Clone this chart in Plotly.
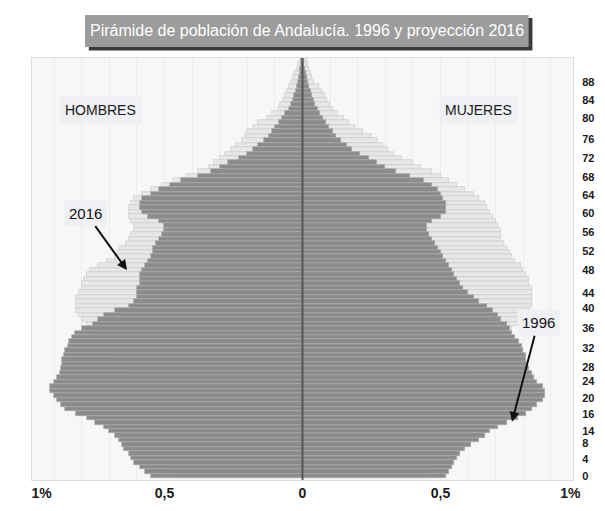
import plotly.graph_objs as go

ages = list(range(95))

# % of total population per single year of age
men_1996 = [
    0.55, 0.57, 0.59, 0.61, 0.62, 0.63, 0.645, 0.655, 0.665, 0.68,
    0.70, 0.72, 0.75, 0.78, 0.82, 0.86, 0.875, 0.89, 0.90, 0.915,
    0.915, 0.90, 0.89, 0.88, 0.875, 0.87, 0.87, 0.865, 0.86, 0.85,
    0.845, 0.835, 0.825, 0.80, 0.76, 0.74, 0.72, 0.68, 0.63, 0.61,
    0.60, 0.60, 0.60, 0.59, 0.59, 0.59, 0.58, 0.57, 0.56, 0.55,
    0.54, 0.54, 0.53, 0.52, 0.51, 0.50, 0.50, 0.52, 0.56, 0.58,
    0.59, 0.59, 0.58, 0.55, 0.52, 0.48, 0.44, 0.38, 0.33, 0.30,
    0.27, 0.23, 0.20, 0.18, 0.16, 0.14, 0.12, 0.11, 0.10, 0.085,
    0.075, 0.065, 0.05, 0.04, 0.035, 0.03, 0.025, 0.02, 0.015, 0.012,
    0.01, 0.008, 0.006, 0.004, 0.002,
]
women_1996 = [
    0.52, 0.53, 0.54, 0.55, 0.56, 0.57, 0.59, 0.61, 0.64, 0.66,
    0.68, 0.71, 0.74, 0.78, 0.81, 0.83, 0.85, 0.87, 0.88, 0.88,
    0.87, 0.85, 0.84, 0.83, 0.82, 0.815, 0.81, 0.81, 0.80, 0.795,
    0.785, 0.77, 0.76, 0.75, 0.74, 0.72, 0.71, 0.69, 0.67, 0.64,
    0.62, 0.60, 0.58, 0.57, 0.56, 0.55, 0.54, 0.53, 0.52, 0.51,
    0.50, 0.49, 0.48, 0.47, 0.46, 0.45, 0.45, 0.47, 0.50, 0.52,
    0.52, 0.52, 0.51, 0.50, 0.49, 0.47, 0.44, 0.39, 0.34, 0.30,
    0.27, 0.24, 0.21, 0.18, 0.16, 0.14, 0.12, 0.11, 0.095, 0.085,
    0.075, 0.065, 0.055, 0.045, 0.04, 0.035, 0.03, 0.025, 0.02, 0.015,
    0.012, 0.009, 0.006, 0.004, 0.002,
]
men_2016 = [
    0.47, 0.48, 0.49, 0.50, 0.51, 0.52, 0.52, 0.52, 0.52, 0.53,
    0.53, 0.52, 0.51, 0.50, 0.50, 0.50, 0.51, 0.52, 0.53, 0.55,
    0.57, 0.59, 0.61, 0.63, 0.65, 0.66, 0.67, 0.68, 0.69, 0.70,
    0.71, 0.72, 0.74, 0.76, 0.78, 0.80, 0.81, 0.82, 0.82, 0.82,
    0.82, 0.81, 0.80, 0.80, 0.79, 0.78, 0.77, 0.74, 0.71, 0.68,
    0.67, 0.66, 0.64, 0.63, 0.62, 0.61, 0.61, 0.62, 0.63, 0.63,
    0.63, 0.62, 0.61, 0.58, 0.55, 0.51, 0.47, 0.42, 0.38, 0.34,
    0.32, 0.30, 0.28, 0.26, 0.24, 0.22, 0.21, 0.20, 0.18, 0.16,
    0.13, 0.11, 0.09, 0.08, 0.07, 0.065, 0.055, 0.05, 0.04, 0.035,
    0.03, 0.02, 0.015, 0.01, 0.005,
]
women_2016 = [
    0.45, 0.46, 0.47, 0.48, 0.49, 0.49, 0.50, 0.50, 0.50, 0.50,
    0.50, 0.49, 0.48, 0.48, 0.48, 0.48, 0.49, 0.50, 0.51, 0.53,
    0.55, 0.57, 0.59, 0.61, 0.63, 0.64, 0.65, 0.66, 0.67, 0.68,
    0.70, 0.72, 0.74, 0.76, 0.78, 0.80, 0.81, 0.82, 0.83, 0.83,
    0.83, 0.83, 0.83, 0.82, 0.82, 0.81, 0.80, 0.79, 0.77, 0.76,
    0.75, 0.74, 0.73, 0.72, 0.72, 0.72, 0.71, 0.70, 0.69, 0.68,
    0.67, 0.66, 0.64, 0.62, 0.59, 0.56, 0.53, 0.50, 0.47, 0.43,
    0.40, 0.36, 0.33, 0.31, 0.29, 0.27, 0.25, 0.22, 0.19, 0.17,
    0.15, 0.13, 0.11, 0.10, 0.09, 0.08, 0.07, 0.06, 0.04, 0.035,
    0.03, 0.025, 0.02, 0.015, 0.01,
]

# the printed age labels do not sit on their own ages, so keep them where they appear
age_tick_labels = ['0', '4', '8', '14', '16', '20', '24', '28', '32', '36', '40', '44',
                   '48', '52', '56', '60', '64', '68', '72', '76', '80', '84', '88']
age_tick_pos = [0, 3.8, 7.4, 10.1, 13.8, 17.4, 21.2, 24.3, 28.6, 33.1, 37.5, 40.9,
                46.0, 50.3, 54.5, 58.7, 62.8, 66.8, 71.0, 75.3, 80.0, 84.0, 88.0]
pct_tick_labels = ['1%', '0,5', '0', '0,5', '1%']
pct_tick_pos = [-0.945, -0.5, 0, 0.5, 0.97]

title_text = 'Pirámide de población de Andalucía. 1996 y proyección 2016'
sans = 'Liberation Sans, Arial, sans-serif'


def _bars(values, sign, fill, edge):
    return go.Bar(
        x=[sign * v for v in values],
        y=ages,
        orientation='h',
        marker=dict(color=fill, line=dict(color=edge, width=0.7)),
        showlegend=False,
        hoverinfo='skip',
    )


fig = go.Figure()
fig.add_trace(_bars(men_2016, -1, '#e7e7e7', '#cdcdcd'))
fig.add_trace(_bars(women_2016, 1, '#e7e7e7', '#cdcdcd'))
fig.add_trace(_bars(men_1996, -1, '#8b8b8b', '#ababab'))
fig.add_trace(_bars(women_1996, 1, '#8b8b8b', '#ababab'))

fig.add_vline(x=0, line=dict(color='#555555', width=2), layer='above')

# title plate with its drop shadow
fig.add_shape(type='rect', xref='paper', yref='paper', x0=0.105, x1=0.925, y0=1.018, y1=1.095,
              fillcolor='#3a3a3a', line=dict(width=0))
fig.add_shape(type='rect', xref='paper', yref='paper', x0=0.098, x1=0.918, y0=1.026, y1=1.102,
              fillcolor='#9c9c9c', line=dict(width=0))

fig.add_annotation(text=title_text, xref='paper', yref='paper', x=0.508, y=1.064,
                   xanchor='center', yanchor='middle', showarrow=False,
                   font=dict(family=sans, size=16, color='white'))

for label, xp in [('HOMBRES', 0.1275), ('MUJERES', 0.826)]:
    fig.add_annotation(text=label, xref='paper', yref='paper', x=xp, y=0.877,
                       xanchor='center', yanchor='middle', showarrow=False,
                       bgcolor='#eef0f4', borderpad=5,
                       font=dict(family=sans, size=14, color='#1a1a1a'))

fig.add_annotation(text='2016', x=-0.636, y=46, ax=-41, ay=-57, showarrow=True,
                   arrowhead=2, arrowsize=1, arrowwidth=2, arrowcolor='#111111',
                   bgcolor='#eef0f4', borderpad=4, font=dict(family=sans, size=15, color='#111111'))
fig.add_annotation(text='1996', x=0.759, y=12.1, ax=26, ay=-99, showarrow=True,
                   arrowhead=2, arrowsize=1, arrowwidth=2, arrowcolor='#111111',
                   bgcolor='#eef0f4', borderpad=4, font=dict(family=sans, size=15, color='#111111'))

# the page body adds 8px on the left and top, so the figure is 8px smaller there
fig.update_layout(
    width=597,
    height=503,
    margin=dict(l=24, r=32, t=50, b=31),
    barmode='overlay',
    bargap=0,
    paper_bgcolor='white',
    plot_bgcolor='#f7f7f7',
    font=dict(family=sans, color='#222222'),
    xaxis=dict(
        range=[-0.98, 0.98],
        automargin=False,
        tickmode='array',
        tickvals=pct_tick_pos,
        ticktext=pct_tick_labels,
        tickfont=dict(size=14, color='#1a1a1a', weight='bold'),
        showgrid=False,
        zeroline=False,
        showline=True,
        linecolor='#dcdcdc',
        mirror=True,
        ticks='',
        minor=dict(tickmode='linear', tick0=0, dtick=0.1, showgrid=True, gridcolor='#ececec'),
    ),
    yaxis=dict(
        range=[-0.9, 93.4],
        automargin=False,
        side='right',
        tickmode='array',
        tickvals=age_tick_pos,
        ticktext=age_tick_labels,
        tickfont=dict(size=11, color='#1a1a1a', weight='bold'),
        ticklabelstandoff=6,
        showgrid=False,
        zeroline=False,
        showline=True,
        linecolor='#dcdcdc',
        mirror=True,
        ticks='',
    ),
)

fig.write_html('out.html')
